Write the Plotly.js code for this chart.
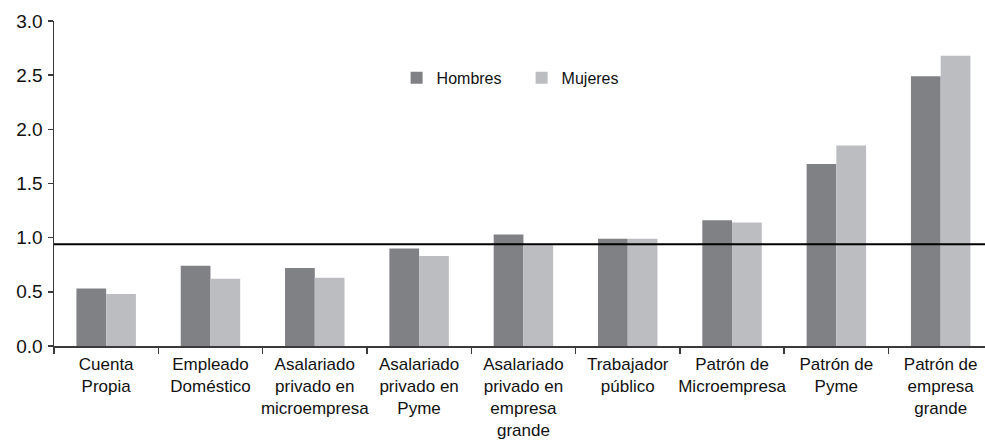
<!DOCTYPE html>
<html>
<head>
<meta charset="utf-8">
<script src="https://cdn.plot.ly/plotly-3.0.1.min.js"></script>
<style>html,body{margin:0;padding:0;background:#fff;}#chart{width:985px;height:440px;}</style>
</head>
<body>
<div id="chart"></div>
<script>
var categories = [
  "Cuenta<br>Propia",
  "Empleado<br>Doméstico",
  "Asalariado<br>privado en<br>microempresa",
  "Asalariado<br>privado en<br>Pyme",
  "Asalariado<br>privado en<br>empresa<br>grande",
  "Trabajador<br>público",
  "Patrón de<br>Microempresa",
  "Patrón de<br>Pyme",
  "Patrón de<br>empresa<br>grande"
];
var hombres = [0.53, 0.74, 0.72, 0.90, 1.03, 0.99, 1.16, 1.68, 2.49];
var mujeres = [0.48, 0.62, 0.63, 0.83, 0.93, 0.99, 1.14, 1.85, 2.68];
var seriesNames = ["Hombres", "Mujeres"];
var yTicks = [0, 0.5, 1.0, 1.5, 2.0, 2.5, 3.0];
var refLine = 0.94;

var traces = [
  {type: "bar", name: seriesNames[0], x: categories, y: hombres,
   marker: {color: "#808185", line: {width: 0}}},
  {type: "bar", name: seriesNames[1], x: categories, y: mujeres,
   marker: {color: "#bcbdc1", line: {width: 0}}}
];

var layout = {
  width: 985, height: 440,
  margin: {l: 54, r: 0, t: 21, b: 94, pad: 0},
  paper_bgcolor: "#fff", plot_bgcolor: "#fff",
  font: {family: "Liberation Sans, Arial, sans-serif", color: "#111", size: 16},
  barmode: "group", bargap: 0.43, bargroupgap: 0,
  showlegend: true,
  legend: {orientation: "h", x: 0.368, xanchor: "left", y: 0.825, yanchor: "middle",
           bgcolor: "rgba(0,0,0,0)", font: {size: 16, color: "#111"}, entrywidth: 80, entrywidthmode: "pixels",
           traceorder: "normal"},
  xaxis: {
    type: "category", range: [-0.5, 8.425], autorange: false,
    showline: true, linecolor: "#3a3a3a", linewidth: 1.5,
    ticks: "outside", tickson: "boundaries", ticklen: 6, tickcolor: "#3a3a3a", tickwidth: 1.5,
    showgrid: false, zeroline: false,
    tickfont: {size: 17, color: "#111"}, tickangle: 0, ticklabelstandoff: 2,
    fixedrange: true
  },
  yaxis: {
    range: [0, 3.0], autorange: false,
    tickvals: yTicks, ticktext: yTicks.map(function(v){return v.toFixed(1);}),
    showline: true, linecolor: "#3a3a3a", linewidth: 1.5,
    ticks: "outside", ticklen: 5, tickcolor: "#3a3a3a", tickwidth: 1.5,
    showgrid: false, zeroline: false,
    tickfont: {size: 19, color: "#111"}, ticklabelstandoff: 1,
    fixedrange: true
  },
  shapes: [
    {type: "line", xref: "paper", x0: 0, x1: 1, yref: "y", y0: refLine, y1: refLine,
     line: {color: "#000", width: 2}}
  ]
};

Plotly.newPlot("chart", traces, layout, {displayModeBar: false, staticPlot: true});
</script>
</body>
</html>
